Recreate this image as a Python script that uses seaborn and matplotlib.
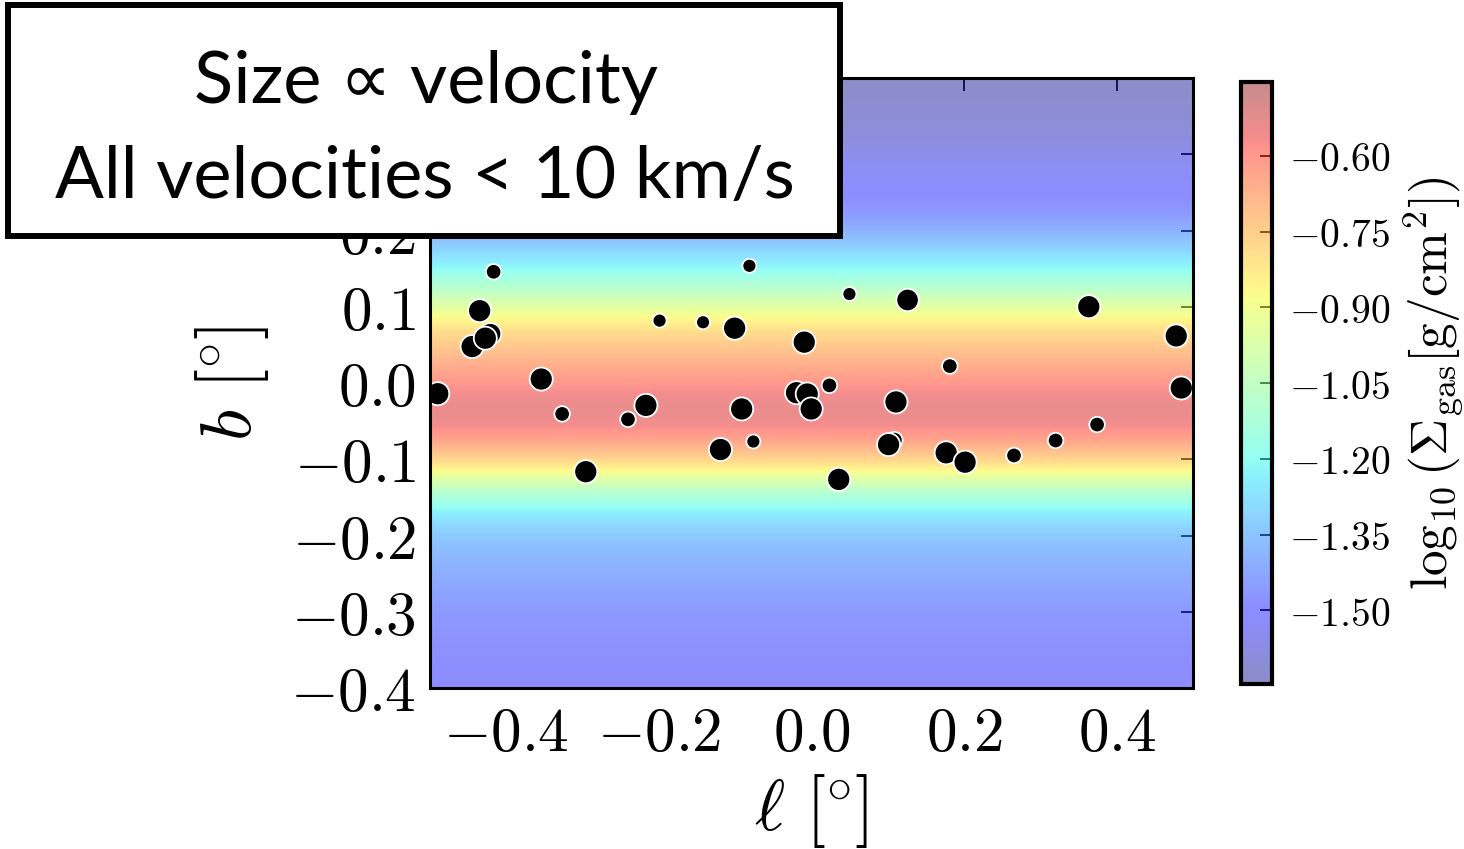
import numpy as np
import pandas as pd
import matplotlib
matplotlib.use("Agg")
import matplotlib.pyplot as plt
from matplotlib.patches import Rectangle
from matplotlib.ticker import FuncFormatter
import seaborn as sns

# Cloud positions: Galactic longitude / latitude (degrees) and speed (km/s)
ell = [-0.4166, -0.4349, -0.4448, -0.4209, -0.4275, -0.4898, -0.3542, -0.3268,
       -0.2958, -0.2405, -0.2170, -0.1991, -0.1421, -0.1007, -0.0814, -0.0915,
       -0.0762, -0.1193, -0.0095, -0.0196, -0.0056, -0.0004, 0.0497, 0.1259,
       0.3634, 0.4780, 0.4846, 0.1813, 0.0235, 0.1107, 0.1085, 0.1010,
       0.1765, 0.2013, 0.2654, 0.3199, 0.3743, 0.0357]
lat = [0.1459, 0.0949, 0.0478, 0.0644, 0.0588, -0.0140, 0.0052, -0.0405,
       -0.1163, -0.0476, -0.0293, 0.0818, 0.0797, 0.0719, 0.1537, -0.0340,
       -0.0767, -0.0872, 0.0536, -0.0127, -0.0144, -0.0340, 0.1167, 0.1089,
       0.1001, 0.0618, -0.0065, 0.0222, -0.0031, -0.0248, -0.0750, -0.0807,
       -0.0915, -0.1038, -0.0950, -0.0754, -0.0545, -0.1264]
speed = [4.3, 9.5, 9.5, 8.5, 9.5, 9.5, 9.5, 4.3,
         9.5, 4.3, 9.5, 3.5, 3.5, 9.5, 3.5, 9.5,
         3.5, 9.5, 9.5, 9.5, 9.5, 9.5, 3.5, 9.0,
         9.5, 9.5, 9.5, 4.3, 4.3, 9.5, 5.0, 9.5,
         9.5, 9.5, 4.3, 4.3, 4.3, 9.5]

# Vertical gas profile: latitude samples (deg) and log10 surface density
b_profile = [-0.3875, -0.3625, -0.3375, -0.3125, -0.2875, -0.2625, -0.2375, -0.2125,
             -0.1875, -0.1625, -0.1375, -0.1125, -0.0875, -0.0625, -0.0375, -0.0125,
             0.0125, 0.0375, 0.0625, 0.0875, 0.1125, 0.1375, 0.1625, 0.1875,
             0.2125, 0.2375, 0.2625, 0.2875, 0.3125, 0.3375, 0.3625, 0.3875]
log_sigma = [-1.50, -1.49, -1.48, -1.47, -1.45, -1.42, -1.40, -1.36,
             -1.31, -1.20, -1.06, -0.84, -0.69, -0.57, -0.53, -0.56,
             -0.63, -0.70, -0.77, -0.88, -1.02, -1.16, -1.26, -1.36,
             -1.44, -1.49, -1.52, -1.54, -1.58, -1.60, -1.62, -1.63]

sigma_min, sigma_max = -1.646, -0.453
x_ticks = [-0.4, -0.2, 0.0, 0.2, 0.4]
y_ticks = [-0.4, -0.3, -0.2, -0.1, 0.0, 0.1, 0.2, 0.3, 0.4]
cbar_ticks = [-0.60, -0.75, -0.90, -1.05, -1.20, -1.35, -1.50]

sns.set_theme(style="white")
plt.rcParams["mathtext.fontset"] = "cm"
plt.rcParams["font.family"] = ["DejaVu Sans"]

fig = plt.figure(figsize=(14.64, 8.49), dpi=100)
ax = fig.add_axes([0.2937, 0.1896, 0.5212, 0.7185])
cax = fig.add_axes([0.8477, 0.1943, 0.0212, 0.7095])

# gas surface-density background, uniform in longitude
db = b_profile[1] - b_profile[0]
field = np.repeat(np.array(log_sigma)[:, None], 2, axis=1)
im = ax.imshow(field, origin="lower", aspect="auto", cmap="jet", alpha=0.45,
               vmin=sigma_min, vmax=sigma_max, interpolation="bicubic",
               extent=[-0.5, 0.5, b_profile[0] - db / 2, b_profile[-1] + db / 2],
               zorder=1)

clouds = pd.DataFrame({"l": ell, "b": lat, "v": speed})
sns.scatterplot(data=clouds, x="l", y="b", size="v", sizes=(0, 290),
                size_norm=(0, 10), color="black", edgecolor="white",
                linewidth=1.3, legend=False, ax=ax, zorder=3)


def lat_label(v, pos):
    # the two top labels sit under the annotation box
    if v > 0.25:
        return ""
    return rf"${v:.1f}$"


ax.set_xlim(-0.5, 0.5)
ax.set_ylim(-0.4, 0.4)
ax.set_xticks(x_ticks)
ax.set_yticks(y_ticks)
ax.xaxis.set_major_formatter(FuncFormatter(lambda v, p: rf"${v:.1f}$"))
ax.yaxis.set_major_formatter(FuncFormatter(lat_label))
ax.tick_params(direction="in", length=9, width=1.2, top=True, right=True,
               labelsize=44, color="black", labelcolor="black")
ax.tick_params(axis="x", pad=12)
ax.tick_params(axis="y", pad=10)
for sp in ax.spines.values():
    sp.set_linewidth(2.2)
    sp.set_color("black")
    sp.set_zorder(4)
ax.set_xlabel(r"$\ell\ [\!^\circ\!]$", fontsize=52, labelpad=6, color="black")
ax.set_ylabel(r"$b\ [\!^\circ\!]$", fontsize=52, labelpad=14, color="black")

cb = fig.colorbar(im, cax=cax)
cb.set_ticks(cbar_ticks)
cb.ax.yaxis.set_major_formatter(FuncFormatter(lambda v, p: rf"${v:.2f}$"))
cb.outline.set_linewidth(3)
cb.outline.set_edgecolor("black")
cax.tick_params(direction="in", length=9, width=1.2, labelsize=28.5, pad=12,
                color="black", labelcolor="black")
cb.set_label(r"$\log_{10}(\Sigma_{\rm gas}[{\rm g/cm^2}])$", fontsize=37,
             labelpad=8, color="black")

# annotation box over the upper-left corner
box = Rectangle((0.00546, 0.722), 0.5683, 0.272, transform=fig.transFigure,
                facecolor="white", edgecolor="black", linewidth=4.3, zorder=5)
fig.add_artist(box)
fig.text(0.2907, 1 - 103 / 849, "Size \u221d velocity", ha="center", va="baseline",
         fontsize=52, family=["Lato", "DejaVu Sans"], color="black", zorder=6)
fig.text(0.2903, 1 - 198 / 849, "All velocities < 10 km/s", ha="center",
         va="baseline", fontsize=52, family=["Lato", "DejaVu Sans"],
         color="black", zorder=6)

fig.savefig("out.png", dpi=100)
